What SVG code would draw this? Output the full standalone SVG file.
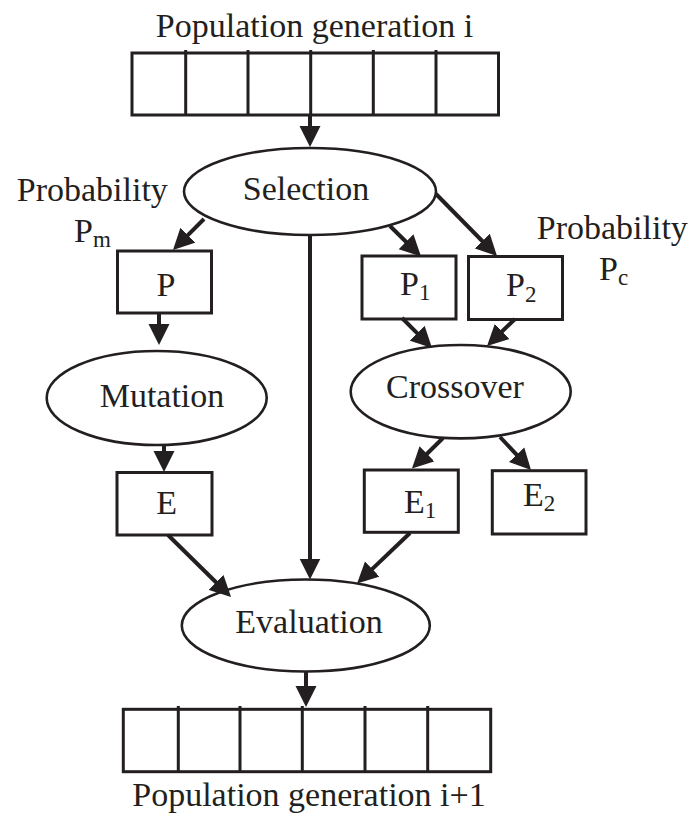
<svg xmlns="http://www.w3.org/2000/svg" width="694" height="824" viewBox="0 0 694 824">
<style>
text{font-family:"Liberation Serif","Times New Roman",serif;font-size:34px;fill:#231f20}
.sub{font-size:23px}
.c{text-anchor:middle}
.box{fill:#fff;stroke:#231f20;stroke-width:3}
.ell{fill:#fff;stroke:#231f20;stroke-width:2.6}
.div{stroke:#231f20;stroke-width:3}
.arr{stroke:#231f20;stroke-width:4;fill:none;marker-end:url(#ah)}
</style>
<defs>
<marker id="ah" markerUnits="userSpaceOnUse" markerWidth="22" markerHeight="22" viewBox="0 -11 22 22" refX="2" refY="0" orient="auto">
<path d="M0,-10.5 L21,0 L0,10.5 Z" fill="#231f20"/>
</marker>
</defs>
<rect width="694" height="824" fill="#fff"/>
<g id="pop-i">
<text class="c" x="314.5" y="37">Population generation i</text>
<rect class="box" x="132" y="53" width="366.5" height="62"/>
<path class="div" d="M185.7,50V115M248,50V115M310.7,50V115M373.3,50V115M436,50V115"/>
</g>
<g id="selection">
<ellipse class="ell" cx="310" cy="191.5" rx="126" ry="43.5"/>
<text class="c" x="306" y="200">Selection</text>
</g>
<g id="prob-m">
<text class="c" x="92.3" y="201">Probability</text>
<text x="74" y="241.5">P<tspan class="sub" dy="5">m</tspan></text>
</g>
<g id="box-p">
<rect class="box" x="117.5" y="251" width="94" height="62"/>
<text class="c" x="166" y="296">P</text>
</g>
<g id="box-p1">
<rect class="box" x="362" y="256" width="94" height="63"/>
<text x="400" y="295">P<tspan class="sub" dy="5">1</tspan></text>
</g>
<g id="box-p2">
<rect class="box" x="468.5" y="256.5" width="94" height="63"/>
<text x="506" y="296">P<tspan class="sub" dy="6">2</tspan></text>
</g>
<g id="prob-c">
<text class="c" x="612.3" y="239">Probability</text>
<text x="599" y="280">P<tspan class="sub" dy="5">c</tspan></text>
</g>
<g id="mutation">
<ellipse class="ell" cx="156.7" cy="398" rx="110" ry="47"/>
<text class="c" x="162" y="407">Mutation</text>
</g>
<g id="crossover">
<ellipse class="ell" cx="460.7" cy="391.7" rx="110" ry="46.7"/>
<text class="c" x="455" y="398">Crossover</text>
</g>
<g id="box-e">
<rect class="box" x="117" y="472.5" width="95" height="62.5"/>
<text class="c" x="166.7" y="514">E</text>
</g>
<g id="box-e1">
<rect class="box" x="364.3" y="470" width="94" height="62.3"/>
<text x="404" y="513">E<tspan class="sub" dy="5">1</tspan></text>
</g>
<g id="box-e2">
<rect class="box" x="492.3" y="470.7" width="93.7" height="63.3"/>
<text x="523" y="506">E<tspan class="sub" dy="5">2</tspan></text>
</g>
<g id="evaluation">
<ellipse class="ell" cx="305.8" cy="625.5" rx="124" ry="46"/>
<text class="c" x="309" y="633">Evaluation</text>
</g>
<g id="pop-i1">
<rect class="box" x="123.3" y="709.3" width="367.4" height="62.4"/>
<path class="div" d="M178.3,706V771.7M240,706V771.7M302.3,706V771.7M365,706V771.7M427.7,706V771.7"/>
<text class="c" x="309" y="806">Population generation i+1</text>
</g>
<g id="connectors">
<line class="arr" x1="310" y1="115" x2="310" y2="128"/>
<line class="arr" x1="204" y1="219" x2="186.4" y2="236.6"/>
<line class="arr" x1="390" y1="226" x2="407.5" y2="243.2"/>
<line class="arr" x1="436" y1="194" x2="483.7" y2="242.5"/>
<line class="arr" x1="159" y1="313" x2="159" y2="326"/>
<line class="arr" x1="164" y1="445" x2="164" y2="453"/>
<line class="arr" x1="402" y1="318" x2="418.6" y2="334.6"/>
<line class="arr" x1="515" y1="319" x2="500.7" y2="332.8"/>
<line class="arr" x1="443" y1="438" x2="425.5" y2="455.2"/>
<line class="arr" x1="500" y1="437" x2="518" y2="456.2"/>
<line class="arr" x1="168" y1="535" x2="217.5" y2="583.7"/>
<line class="arr" x1="310" y1="235" x2="310" y2="560.5"/>
<line class="arr" x1="410" y1="533" x2="370.8" y2="570.4"/>
<line class="arr" x1="306" y1="672" x2="306" y2="688"/>
</g>
</svg>
